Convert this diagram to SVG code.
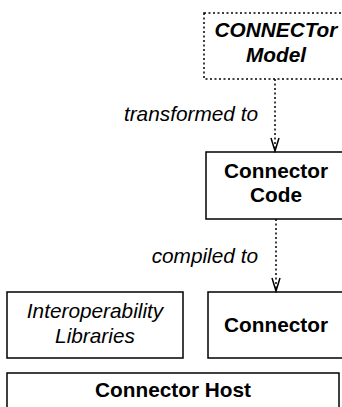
<svg xmlns="http://www.w3.org/2000/svg" width="342" height="407" viewBox="0 0 342 407">
<defs>
<style>
.box{fill:#fff;stroke:#000;stroke-width:1.5}
.dot{fill:#fff;stroke:#000;stroke-width:1.5;stroke-dasharray:2 2.5}
.t{font-family:"Liberation Sans",Arial,sans-serif;font-size:20.8px;fill:#000;text-anchor:middle}
.b{font-weight:bold}
.i{font-style:italic}
.lbl{font-family:"Liberation Sans",Arial,sans-serif;font-size:20.8px;font-style:italic;fill:#000;text-anchor:end}
.edge{fill:none;stroke:#000;stroke-width:1.5;stroke-dasharray:2 2.5}
</style>
<marker id="v" markerWidth="16" markerHeight="12" refX="14" refY="6" orient="auto" markerUnits="userSpaceOnUse" viewBox="0 0 16 12">
<path d="M1,2 L14,6 L1,10" fill="none" stroke="#000" stroke-width="1.5"/>
</marker>
</defs>
<rect width="342" height="407" fill="#fff"/>
<g id="model">
<rect class="dot" x="204" y="13" width="160" height="66"/>
<text class="t b i" x="276" y="37">CONNECTor</text>
<text class="t b i" x="276" y="62">Model</text>
</g>
<g id="code">
<rect class="box" x="206" y="152" width="160" height="67"/>
<text class="t b" x="276" y="178">Connector</text>
<text class="t b" x="276" y="202">Code</text>
</g>
<g id="libraries">
<rect class="box" x="7" y="292" width="176" height="66"/>
<text class="t i" x="95" y="318">Interoperability</text>
<text class="t i" x="95" y="343">Libraries</text>
</g>
<g id="connector">
<rect class="box" x="208" y="292" width="160" height="66"/>
<text class="t b" x="276" y="332">Connector</text>
</g>
<g id="host">
<rect class="box" x="7" y="373" width="332" height="50"/>
<text class="t b" x="173" y="397">Connector Host</text>
</g>
<g id="connectors">
<path class="edge" d="M275,79 V151" marker-end="url(#v)"/>
<path class="edge" d="M276,219 V291" marker-end="url(#v)"/>
<text class="lbl" x="258" y="121">transformed to</text>
<text class="lbl" x="258" y="263">compiled to</text>
</g>
</svg>
